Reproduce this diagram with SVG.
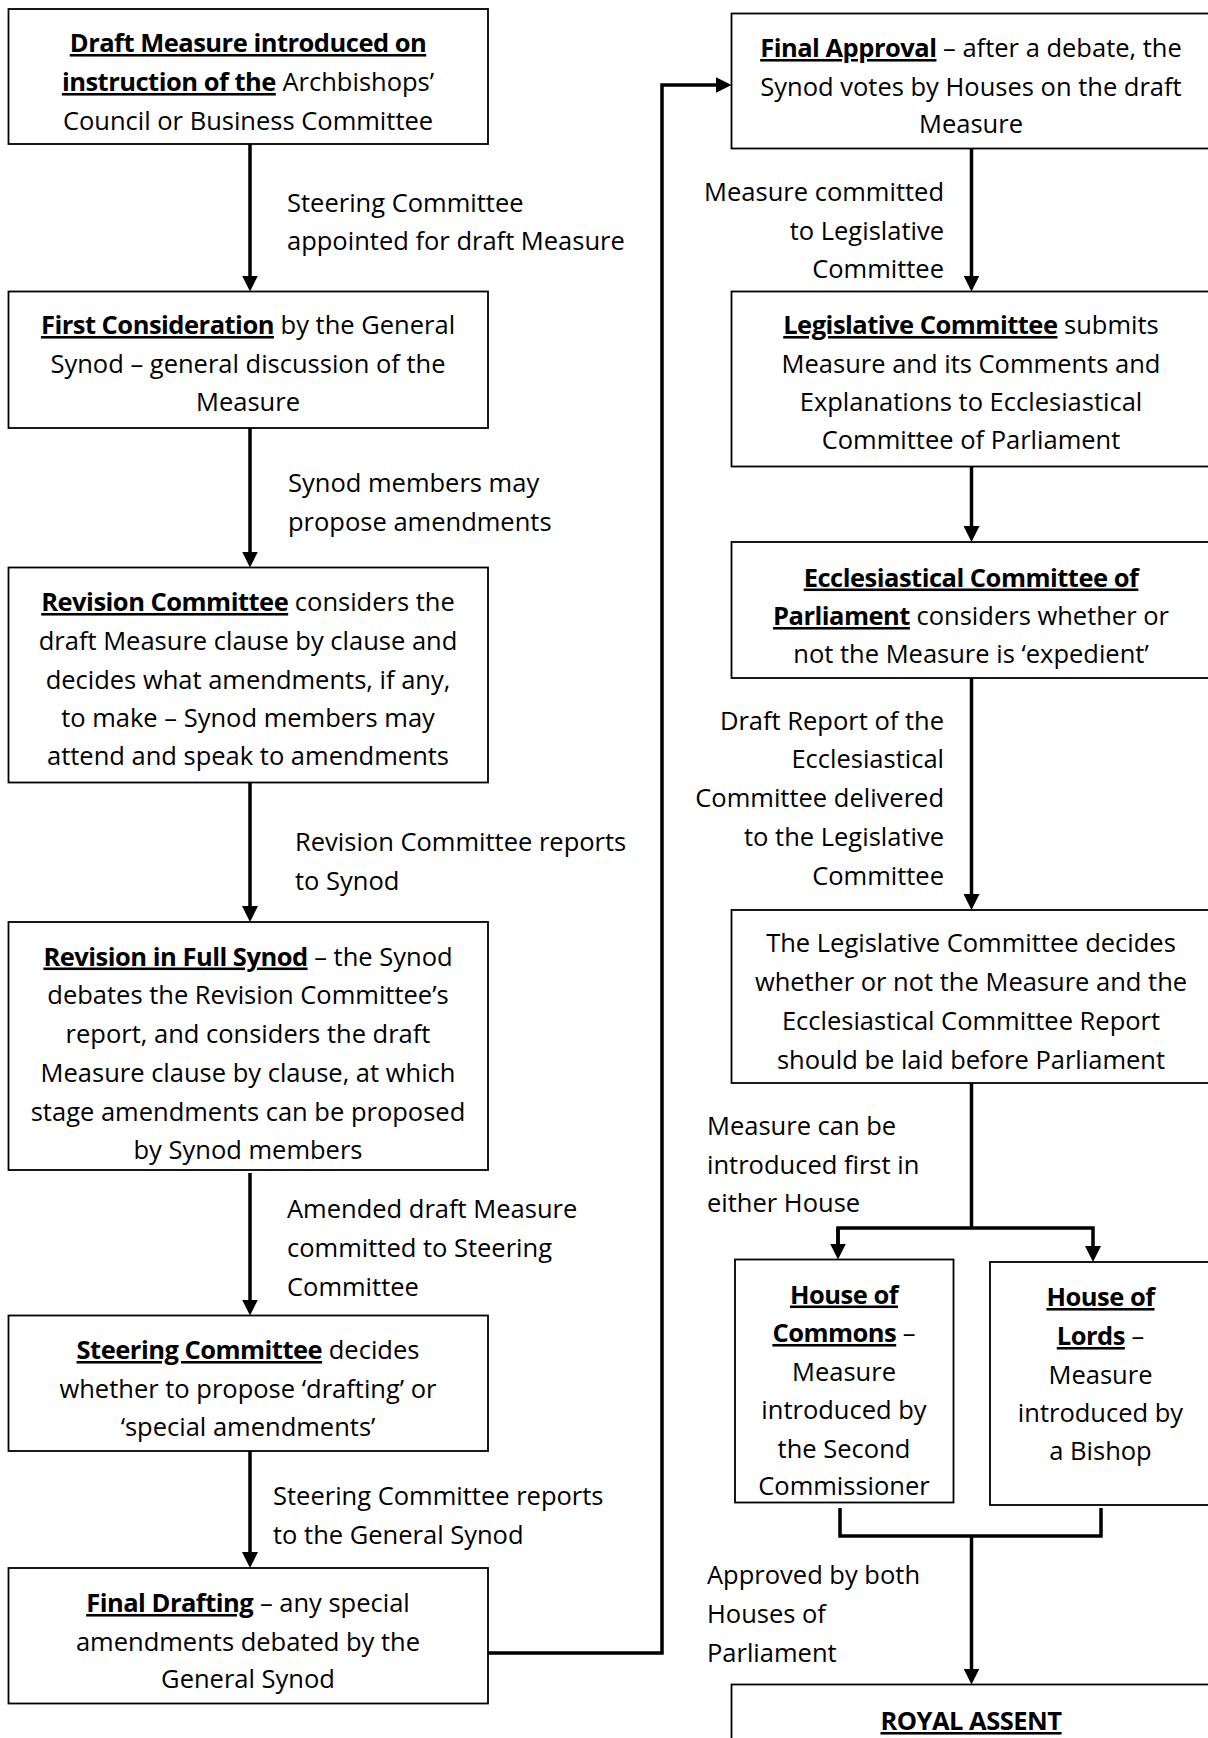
<svg xmlns="http://www.w3.org/2000/svg" width="1208" height="1738" viewBox="0 0 1208 1738">
<style>
text{font-family:"Open Sans","Noto Sans","Liberation Sans",sans-serif;font-size:25.5px;fill:#000}
.c{text-anchor:middle}
.r{text-anchor:end}
.b{font-weight:bold;text-decoration:underline;letter-spacing:-0.5px}
.box{fill:#fff;stroke:#000;stroke-width:1.8}
.con{fill:none;stroke:#000;stroke-width:3.5}
</style>
<defs>
<marker id="ah" markerUnits="userSpaceOnUse" viewBox="0 0 16 16" markerWidth="16" markerHeight="16" refX="10" refY="8" orient="auto">
<path d="M0,0 L16,8 L0,16 z" fill="#000"/>
</marker>
</defs>
<rect width="1208" height="1738" fill="#fff"/>

<g id="connectors">
<path class="con" d="M250 144 V285.5" marker-end="url(#ah)"/>
<path class="con" d="M250 428 V561.5" marker-end="url(#ah)"/>
<path class="con" d="M250 782.5 V916" marker-end="url(#ah)"/>
<path class="con" d="M250 1173 V1309.5" marker-end="url(#ah)"/>
<path class="con" d="M250 1451 V1562" marker-end="url(#ah)"/>
<path class="con" d="M488 1653 H662 V85 H725.5" marker-end="url(#ah)"/>
<path class="con" d="M971.5 148.5 V285.5" marker-end="url(#ah)"/>
<path class="con" d="M971.5 466.5 V536" marker-end="url(#ah)"/>
<path class="con" d="M971.5 678 V904" marker-end="url(#ah)"/>
<path class="con" d="M971.5 1083 V1228"/>
<path class="con" d="M838 1253.5 V1228 H1093 V1256" marker-end="url(#ah)"/>
<path class="con" d="M838 1228 V1253.5" marker-end="url(#ah)"/>
<path class="con" d="M840 1508 V1536 H1101 V1508"/>
<path class="con" d="M971.5 1536 V1678.5" marker-end="url(#ah)"/>
</g>

<g id="n1">
<rect class="box" x="8.5" y="9" width="479.5" height="135"/>
<text class="c" x="248" y="52"><tspan class="b">Draft Measure introduced on</tspan></text>
<text class="c" x="248" y="91"><tspan class="b">instruction of the</tspan> Archbishops’</text>
<text class="c" x="248" y="129.5">Council or Business Committee</text>
</g>
<g id="l1">
<text x="287" y="212">Steering Committee</text>
<text x="287" y="250">appointed for draft Measure</text>
</g>

<g id="n2">
<rect class="box" x="8.5" y="291.5" width="479.5" height="136.5"/>
<text class="c" x="248" y="334"><tspan class="b">First Consideration</tspan> by the General</text>
<text class="c" x="248" y="372.5">Synod – general discussion of the</text>
<text class="c" x="248" y="411">Measure</text>
</g>
<g id="l2">
<text x="288" y="492">Synod members may</text>
<text x="288" y="531">propose amendments</text>
</g>

<g id="n3">
<rect class="box" x="8.5" y="567.5" width="479.5" height="215"/>
<text class="c" x="248" y="611"><tspan class="b">Revision Committee</tspan> considers the</text>
<text class="c" x="248" y="650">draft Measure clause by clause and</text>
<text class="c" x="248" y="688.5">decides what amendments, if any,</text>
<text class="c" x="248" y="727">to make – Synod members may</text>
<text class="c" x="248" y="765">attend and speak to amendments</text>
</g>
<g id="l3">
<text x="295" y="851">Revision Committee reports</text>
<text x="295" y="890">to Synod</text>
</g>

<g id="n4">
<rect class="box" x="8.5" y="922" width="479.5" height="248"/>
<text class="c" x="248" y="965.5"><tspan class="b">Revision in Full Synod</tspan> – the Synod</text>
<text class="c" x="248" y="1004">debates the Revision Committee’s</text>
<text class="c" x="248" y="1043">report, and considers the draft</text>
<text class="c" x="248" y="1082">Measure clause by clause, at which</text>
<text class="c" x="248" y="1120.5">stage amendments can be proposed</text>
<text class="c" x="248" y="1159">by Synod members</text>
</g>
<g id="l4">
<text x="287" y="1218">Amended draft Measure</text>
<text x="287" y="1257">committed to Steering</text>
<text x="287" y="1296">Committee</text>
</g>

<g id="n5">
<rect class="box" x="8.5" y="1315.5" width="479.5" height="135.5"/>
<text class="c" x="248" y="1359"><tspan class="b">Steering Committee</tspan> decides</text>
<text class="c" x="248" y="1398">whether to propose ‘drafting’ or</text>
<text class="c" x="248" y="1436">‘special amendments’</text>
</g>
<g id="l5">
<text x="273" y="1505">Steering Committee reports</text>
<text x="273" y="1544">to the General Synod</text>
</g>

<g id="n6">
<rect class="box" x="8.5" y="1568" width="479.5" height="135.5"/>
<text class="c" x="248" y="1612"><tspan class="b">Final Drafting</tspan> – any special</text>
<text class="c" x="248" y="1650.5">amendments debated by the</text>
<text class="c" x="248" y="1688">General Synod</text>
</g>

<g id="r1">
<rect class="box" x="731.5" y="13.5" width="480" height="135"/>
<text class="c" x="971" y="57"><tspan class="b">Final Approval</tspan> – after a debate, the</text>
<text class="c" x="971" y="95.5">Synod votes by Houses on the draft</text>
<text class="c" x="971" y="133">Measure</text>
</g>
<g id="rl1">
<text class="r" x="944" y="201">Measure committed</text>
<text class="r" x="944" y="239.5">to Legislative</text>
<text class="r" x="944" y="278">Committee</text>
</g>

<g id="r2">
<rect class="box" x="731.5" y="291.5" width="480" height="175"/>
<text class="c" x="971" y="334"><tspan class="b">Legislative Committee</tspan> submits</text>
<text class="c" x="971" y="372.5">Measure and its Comments and</text>
<text class="c" x="971" y="411">Explanations to Ecclesiastical</text>
<text class="c" x="971" y="449">Committee of Parliament</text>
</g>

<g id="r3">
<rect class="box" x="731.5" y="542" width="480" height="136"/>
<text class="c" x="971" y="586.5"><tspan class="b">Ecclesiastical Committee of</tspan></text>
<text class="c" x="971" y="625"><tspan class="b">Parliament</tspan> considers whether or</text>
<text class="c" x="971" y="663">not the Measure is ‘expedient’</text>
</g>
<g id="rl3">
<text class="r" x="944" y="729.5">Draft Report of the</text>
<text class="r" x="944" y="768">Ecclesiastical</text>
<text class="r" x="944" y="807">Committee delivered</text>
<text class="r" x="944" y="846">to the Legislative</text>
<text class="r" x="944" y="884.5">Committee</text>
</g>

<g id="r4">
<rect class="box" x="731.5" y="910" width="480" height="173"/>
<text class="c" x="971" y="952">The Legislative Committee decides</text>
<text class="c" x="971" y="991">whether or not the Measure and the</text>
<text class="c" x="971" y="1030">Ecclesiastical Committee Report</text>
<text class="c" x="971" y="1068.5">should be laid before Parliament</text>
</g>
<g id="rl4">
<text x="707" y="1135">Measure can be</text>
<text x="707" y="1174">introduced first in</text>
<text x="707" y="1212">either House</text>
</g>

<g id="commons">
<rect class="box" x="735" y="1259.5" width="218.5" height="243"/>
<text class="c" x="844" y="1303.5"><tspan class="b">House of</tspan></text>
<text class="c" x="844" y="1342"><tspan class="b">Commons</tspan> –</text>
<text class="c" x="844" y="1381">Measure</text>
<text class="c" x="844" y="1419">introduced by</text>
<text class="c" x="844" y="1457.5">the Second</text>
<text class="c" x="844" y="1495">Commissioner</text>
</g>

<g id="lords">
<rect class="box" x="990" y="1262" width="221" height="243"/>
<text class="c" x="1100.5" y="1306"><tspan class="b">House of</tspan></text>
<text class="c" x="1100.5" y="1345"><tspan class="b">Lords</tspan> –</text>
<text class="c" x="1100.5" y="1383.5">Measure</text>
<text class="c" x="1100.5" y="1422">introduced by</text>
<text class="c" x="1100.5" y="1460">a Bishop</text>
</g>

<g id="rl5">
<text x="707" y="1584">Approved by both</text>
<text x="707" y="1623">Houses of</text>
<text x="707" y="1661.5">Parliament</text>
</g>

<g id="royal">
<rect class="box" x="731.5" y="1684.5" width="480" height="80"/>
<text class="c" x="971" y="1730"><tspan class="b">ROYAL ASSENT</tspan></text>
</g>
</svg>
